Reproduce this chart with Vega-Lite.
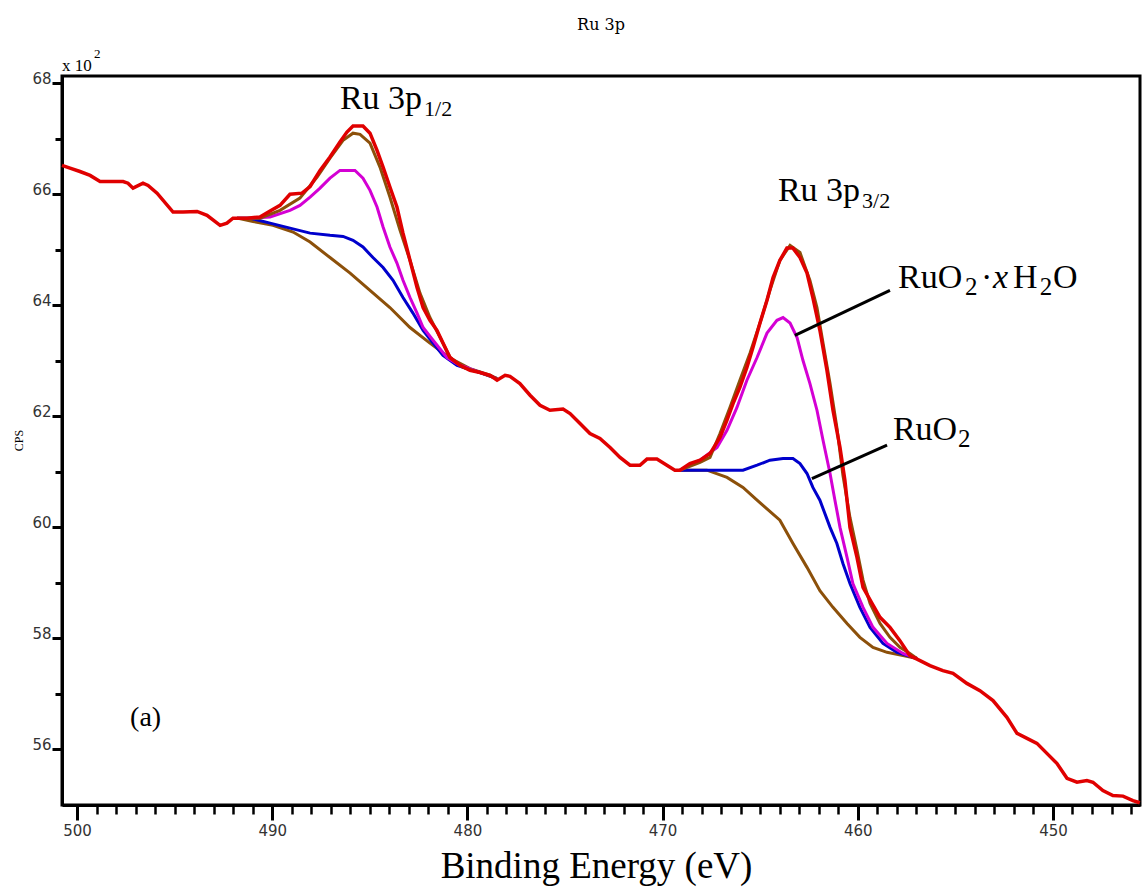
{
  "$schema": "https://vega.github.io/schema/vega-lite/v6.json",
  "width": 1078,
  "height": 729,
  "autosize": {"type": "none"},
  "padding": {"left": 62, "top": 76, "right": 2, "bottom": 85},
  "background": "#ffffff",
  "title": {"text": "Ru 3p", "font": "DejaVu Serif", "fontSize": 16, "fontWeight": "normal", "color": "#000000", "anchor": "middle", "offset": 15},
  "config": {
    "view": {"stroke": "#000000", "strokeWidth": 3},
    "axis": {"grid": false, "domainColor": "#000000", "domainWidth": 3, "tickColor": "#000000", "labelColor": "#333333", "labelFont": "DejaVu Sans", "labelFontSize": 15, "titleColor": "#000000", "titleFont": "Liberation Serif", "titleFontWeight": "normal"}
  },
  "datasets": {
    "measured": [
      {"energy":500.77,"cps":66.52},{"energy":500.36,"cps":66.47},{"energy":499.85,"cps":66.41},{"energy":499.33,"cps":66.34},{"energy":498.82,"cps":66.23},{"energy":497.64,"cps":66.23},{"energy":497.39,"cps":66.20},{"energy":497.13,"cps":66.11},{"energy":496.62,"cps":66.20},{"energy":496.36,"cps":66.16},{"energy":495.90,"cps":66.02},{"energy":495.08,"cps":65.68},{"energy":494.57,"cps":65.68},{"energy":493.85,"cps":65.69},{"energy":493.34,"cps":65.62},{"energy":492.67,"cps":65.44},{"energy":492.32,"cps":65.48},{"energy":492.01,"cps":65.57},{"energy":491.29,"cps":65.57},{"energy":490.63,"cps":65.59},{"energy":490.11,"cps":65.70},{"energy":489.60,"cps":65.80},{"energy":489.09,"cps":66.00},{"energy":488.47,"cps":66.02},{"energy":488.06,"cps":66.14},{"energy":487.55,"cps":66.43},{"energy":487.04,"cps":66.67},{"energy":486.53,"cps":66.94},{"energy":486.17,"cps":67.12},{"energy":485.86,"cps":67.23},{"energy":485.35,"cps":67.23},{"energy":484.99,"cps":67.10},{"energy":484.63,"cps":66.79},{"energy":484.32,"cps":66.49},{"energy":483.97,"cps":66.13},{"energy":483.61,"cps":65.77},{"energy":483.30,"cps":65.30},{"energy":482.94,"cps":64.81},{"energy":482.58,"cps":64.32},{"energy":482.27,"cps":63.96},{"energy":481.92,"cps":63.73},{"energy":481.56,"cps":63.55},{"energy":481.25,"cps":63.32},{"energy":480.89,"cps":63.06},{"energy":480.38,"cps":62.92},{"energy":479.87,"cps":62.83},{"energy":479.35,"cps":62.79},{"energy":478.84,"cps":62.74},{"energy":478.48,"cps":62.65},{"energy":478.07,"cps":62.74},{"energy":477.82,"cps":62.72},{"energy":477.31,"cps":62.59},{"energy":476.79,"cps":62.38},{"energy":476.28,"cps":62.20},{"energy":475.77,"cps":62.11},{"energy":475.10,"cps":62.13},{"energy":474.74,"cps":62.05},{"energy":474.23,"cps":61.87},{"energy":473.72,"cps":61.69},{"energy":473.21,"cps":61.60},{"energy":472.69,"cps":61.44},{"energy":472.18,"cps":61.26},{"energy":471.67,"cps":61.12},{"energy":471.16,"cps":61.12},{"energy":470.80,"cps":61.23},{"energy":470.29,"cps":61.23},{"energy":469.78,"cps":61.12},{"energy":469.37,"cps":61.03},{"energy":469.11,"cps":61.03},{"energy":468.60,"cps":61.15},{"energy":468.08,"cps":61.21},{"energy":467.57,"cps":61.33},{"energy":467.06,"cps":61.62},{"energy":466.70,"cps":61.93},{"energy":466.39,"cps":62.23},{"energy":466.04,"cps":62.52},{"energy":465.68,"cps":62.88},{"energy":465.37,"cps":63.24},{"energy":465.01,"cps":63.68},{"energy":464.65,"cps":64.09},{"energy":464.34,"cps":64.50},{"energy":463.99,"cps":64.81},{"energy":463.63,"cps":65.03},{"energy":463.32,"cps":65.03},{"energy":462.96,"cps":64.86},{"energy":462.60,"cps":64.58},{"energy":462.30,"cps":64.14},{"energy":461.94,"cps":63.55},{"energy":461.58,"cps":62.83},{"energy":461.27,"cps":62.11},{"energy":460.91,"cps":61.44},{"energy":460.66,"cps":60.85},{"energy":460.40,"cps":60.00},{"energy":460.04,"cps":59.46},{"energy":459.73,"cps":58.92},{"energy":459.27,"cps":58.63},{"energy":458.86,"cps":58.38},{"energy":458.35,"cps":58.20},{"energy":457.84,"cps":57.96},{"energy":457.33,"cps":57.69},{"energy":456.81,"cps":57.60},{"energy":456.30,"cps":57.51},{"energy":455.64,"cps":57.42},{"energy":455.12,"cps":57.37},{"energy":454.41,"cps":57.19},{"energy":453.74,"cps":57.06},{"energy":453.07,"cps":56.88},{"energy":452.36,"cps":56.58},{"energy":451.84,"cps":56.29},{"energy":451.33,"cps":56.20},{"energy":450.82,"cps":56.11},{"energy":450.31,"cps":55.93},{"energy":449.80,"cps":55.75},{"energy":449.28,"cps":55.48},{"energy":448.77,"cps":55.41},{"energy":448.26,"cps":55.44},{"energy":447.95,"cps":55.41},{"energy":447.44,"cps":55.26},{"energy":446.93,"cps":55.17},{"energy":446.41,"cps":55.16},{"energy":445.90,"cps":55.08},{"energy":445.55,"cps":55.04}
    ],
    "fits": [
      {"series":"Background","band":"3p1/2","energy":491.80,"cps":65.57},{"series":"Background","band":"3p1/2","energy":490.98,"cps":65.51},{"series":"Background","band":"3p1/2","energy":489.96,"cps":65.44},{"series":"Background","band":"3p1/2","energy":488.93,"cps":65.32},{"series":"Background","band":"3p1/2","energy":488.06,"cps":65.14},{"series":"Background","band":"3p1/2","energy":487.04,"cps":64.86},{"series":"Background","band":"3p1/2","energy":486.01,"cps":64.58},{"series":"Background","band":"3p1/2","energy":484.99,"cps":64.27},{"series":"Background","band":"3p1/2","energy":483.97,"cps":63.96},{"series":"Background","band":"3p1/2","energy":482.94,"cps":63.60},{"series":"Background","band":"3p1/2","energy":481.92,"cps":63.32},{"series":"Background","band":"3p1/2","energy":480.89,"cps":63.05},{"series":"Background","band":"3p1/2","energy":479.87,"cps":62.86},{"series":"Background","band":"3p1/2","energy":478.84,"cps":62.74},{"series":"Background","band":"3p1/2","energy":478.48,"cps":62.68},
      {"series":"RuO2","band":"3p1/2","energy":491.80,"cps":65.57},{"series":"RuO2","band":"3p1/2","energy":491.14,"cps":65.57},{"series":"RuO2","band":"3p1/2","energy":490.11,"cps":65.48},{"series":"RuO2","band":"3p1/2","energy":489.09,"cps":65.39},{"series":"RuO2","band":"3p1/2","energy":488.06,"cps":65.30},{"series":"RuO2","band":"3p1/2","energy":487.04,"cps":65.26},{"series":"RuO2","band":"3p1/2","energy":486.37,"cps":65.24},{"series":"RuO2","band":"3p1/2","energy":485.86,"cps":65.17},{"series":"RuO2","band":"3p1/2","energy":485.35,"cps":65.05},{"series":"RuO2","band":"3p1/2","energy":484.84,"cps":64.86},{"series":"RuO2","band":"3p1/2","energy":484.32,"cps":64.68},{"series":"RuO2","band":"3p1/2","energy":483.81,"cps":64.45},{"series":"RuO2","band":"3p1/2","energy":483.30,"cps":64.14},{"series":"RuO2","band":"3p1/2","energy":482.79,"cps":63.86},{"series":"RuO2","band":"3p1/2","energy":482.27,"cps":63.55},{"series":"RuO2","band":"3p1/2","energy":481.76,"cps":63.32},{"series":"RuO2","band":"3p1/2","energy":481.25,"cps":63.10},{"series":"RuO2","band":"3p1/2","energy":480.53,"cps":62.92},{"series":"RuO2","band":"3p1/2","energy":479.35,"cps":62.79},{"series":"RuO2","band":"3p1/2","energy":478.48,"cps":62.68},
      {"series":"RuO2·xH2O","band":"3p1/2","energy":491.80,"cps":65.57},{"series":"RuO2·xH2O","band":"3p1/2","energy":491.14,"cps":65.57},{"series":"RuO2·xH2O","band":"3p1/2","energy":490.11,"cps":65.59},{"series":"RuO2·xH2O","band":"3p1/2","energy":489.09,"cps":65.71},{"series":"RuO2·xH2O","band":"3p1/2","energy":488.58,"cps":65.80},{"series":"RuO2·xH2O","band":"3p1/2","energy":488.06,"cps":65.95},{"series":"RuO2·xH2O","band":"3p1/2","energy":487.55,"cps":66.11},{"series":"RuO2·xH2O","band":"3p1/2","energy":487.04,"cps":66.29},{"series":"RuO2·xH2O","band":"3p1/2","energy":486.53,"cps":66.43},{"series":"RuO2·xH2O","band":"3p1/2","energy":485.76,"cps":66.43},{"series":"RuO2·xH2O","band":"3p1/2","energy":485.35,"cps":66.29},{"series":"RuO2·xH2O","band":"3p1/2","energy":484.99,"cps":66.07},{"series":"RuO2·xH2O","band":"3p1/2","energy":484.63,"cps":65.77},{"series":"RuO2·xH2O","band":"3p1/2","energy":484.32,"cps":65.41},{"series":"RuO2·xH2O","band":"3p1/2","energy":483.97,"cps":65.05},{"series":"RuO2·xH2O","band":"3p1/2","energy":483.61,"cps":64.76},{"series":"RuO2·xH2O","band":"3p1/2","energy":483.30,"cps":64.45},{"series":"RuO2·xH2O","band":"3p1/2","energy":482.94,"cps":64.14},{"series":"RuO2·xH2O","band":"3p1/2","energy":482.58,"cps":63.86},{"series":"RuO2·xH2O","band":"3p1/2","energy":482.27,"cps":63.60},{"series":"RuO2·xH2O","band":"3p1/2","energy":481.76,"cps":63.37},{"series":"RuO2·xH2O","band":"3p1/2","energy":481.05,"cps":63.06},{"series":"RuO2·xH2O","band":"3p1/2","energy":480.38,"cps":62.92},{"series":"RuO2·xH2O","band":"3p1/2","energy":479.35,"cps":62.79},{"series":"RuO2·xH2O","band":"3p1/2","energy":478.48,"cps":62.68},
      {"series":"Envelope","band":"3p1/2","energy":491.80,"cps":65.57},{"series":"Envelope","band":"3p1/2","energy":490.63,"cps":65.57},{"series":"Envelope","band":"3p1/2","energy":489.60,"cps":65.71},{"series":"Envelope","band":"3p1/2","energy":488.58,"cps":65.93},{"series":"Envelope","band":"3p1/2","energy":487.70,"cps":66.31},{"series":"Envelope","band":"3p1/2","energy":487.04,"cps":66.65},{"series":"Envelope","band":"3p1/2","energy":486.37,"cps":66.97},{"series":"Envelope","band":"3p1/2","energy":485.86,"cps":67.10},{"series":"Envelope","band":"3p1/2","energy":485.50,"cps":67.08},{"series":"Envelope","band":"3p1/2","energy":484.99,"cps":66.92},{"series":"Envelope","band":"3p1/2","energy":484.48,"cps":66.49},{"series":"Envelope","band":"3p1/2","energy":483.97,"cps":65.95},{"series":"Envelope","band":"3p1/2","energy":483.45,"cps":65.35},{"series":"Envelope","band":"3p1/2","energy":482.94,"cps":64.81},{"series":"Envelope","band":"3p1/2","energy":482.43,"cps":64.22},{"series":"Envelope","band":"3p1/2","energy":481.92,"cps":63.78},{"series":"Envelope","band":"3p1/2","energy":481.40,"cps":63.42},{"series":"Envelope","band":"3p1/2","energy":480.89,"cps":63.06},{"series":"Envelope","band":"3p1/2","energy":480.23,"cps":62.88},{"series":"Envelope","band":"3p1/2","energy":479.35,"cps":62.79},{"series":"Envelope","band":"3p1/2","energy":478.48,"cps":62.68},
      {"series":"Background","band":"3p3/2","energy":469.11,"cps":61.03},{"series":"Background","band":"3p3/2","energy":467.73,"cps":61.03},{"series":"Background","band":"3p3/2","energy":466.70,"cps":60.90},{"series":"Background","band":"3p3/2","energy":465.88,"cps":60.72},{"series":"Background","band":"3p3/2","energy":465.16,"cps":60.49},{"series":"Background","band":"3p3/2","energy":463.99,"cps":60.13},{"series":"Background","band":"3p3/2","energy":463.32,"cps":59.71},{"series":"Background","band":"3p3/2","energy":462.60,"cps":59.28},{"series":"Background","band":"3p3/2","energy":461.94,"cps":58.86},{"series":"Background","band":"3p3/2","energy":461.27,"cps":58.56},{"series":"Background","band":"3p3/2","energy":460.55,"cps":58.27},{"series":"Background","band":"3p3/2","energy":459.89,"cps":58.02},{"series":"Background","band":"3p3/2","energy":459.22,"cps":57.84},{"series":"Background","band":"3p3/2","energy":458.50,"cps":57.75},{"series":"Background","band":"3p3/2","energy":457.68,"cps":57.69},{"series":"Background","band":"3p3/2","energy":456.97,"cps":57.64},
      {"series":"RuO2","band":"3p3/2","energy":469.11,"cps":61.03},{"series":"RuO2","band":"3p3/2","energy":467.73,"cps":61.03},{"series":"RuO2","band":"3p3/2","energy":465.88,"cps":61.03},{"series":"RuO2","band":"3p3/2","energy":465.16,"cps":61.12},{"series":"RuO2","band":"3p3/2","energy":464.50,"cps":61.21},{"series":"RuO2","band":"3p3/2","energy":463.83,"cps":61.24},{"series":"RuO2","band":"3p3/2","energy":463.32,"cps":61.24},{"series":"RuO2","band":"3p3/2","energy":462.96,"cps":61.15},{"series":"RuO2","band":"3p3/2","energy":462.60,"cps":60.97},{"series":"RuO2","band":"3p3/2","energy":462.30,"cps":60.72},{"series":"RuO2","band":"3p3/2","energy":461.94,"cps":60.49},{"series":"RuO2","band":"3p3/2","energy":461.42,"cps":60.00},{"series":"RuO2","band":"3p3/2","energy":461.07,"cps":59.71},{"series":"RuO2","band":"3p3/2","energy":460.76,"cps":59.35},{"series":"RuO2","band":"3p3/2","energy":460.40,"cps":58.99},{"series":"RuO2","band":"3p3/2","energy":459.89,"cps":58.56},{"series":"RuO2","band":"3p3/2","energy":459.37,"cps":58.20},{"series":"RuO2","band":"3p3/2","energy":458.71,"cps":57.91},{"series":"RuO2","band":"3p3/2","energy":457.99,"cps":57.75},{"series":"RuO2","band":"3p3/2","energy":456.97,"cps":57.64},
      {"series":"RuO2·xH2O","band":"3p3/2","energy":469.11,"cps":61.03},{"series":"RuO2·xH2O","band":"3p3/2","energy":468.08,"cps":61.21},{"series":"RuO2·xH2O","band":"3p3/2","energy":467.21,"cps":61.44},{"series":"RuO2·xH2O","band":"3p3/2","energy":466.70,"cps":61.75},{"series":"RuO2·xH2O","band":"3p3/2","energy":466.19,"cps":62.16},{"series":"RuO2·xH2O","band":"3p3/2","energy":465.68,"cps":62.65},{"series":"RuO2·xH2O","band":"3p3/2","energy":465.16,"cps":63.06},{"series":"RuO2·xH2O","band":"3p3/2","energy":464.65,"cps":63.50},{"series":"RuO2·xH2O","band":"3p3/2","energy":464.14,"cps":63.73},{"series":"RuO2·xH2O","band":"3p3/2","energy":463.83,"cps":63.78},{"series":"RuO2·xH2O","band":"3p3/2","energy":463.47,"cps":63.68},{"series":"RuO2·xH2O","band":"3p3/2","energy":463.11,"cps":63.42},{"series":"RuO2·xH2O","band":"3p3/2","energy":462.81,"cps":63.01},{"series":"RuO2·xH2O","band":"3p3/2","energy":462.45,"cps":62.59},{"series":"RuO2·xH2O","band":"3p3/2","energy":462.09,"cps":62.11},{"series":"RuO2·xH2O","band":"3p3/2","energy":461.78,"cps":61.57},{"series":"RuO2·xH2O","band":"3p3/2","energy":461.42,"cps":60.97},{"series":"RuO2·xH2O","band":"3p3/2","energy":461.17,"cps":60.49},{"series":"RuO2·xH2O","band":"3p3/2","energy":460.91,"cps":60.00},{"series":"RuO2·xH2O","band":"3p3/2","energy":460.55,"cps":59.46},{"series":"RuO2·xH2O","band":"3p3/2","energy":460.25,"cps":58.99},{"series":"RuO2·xH2O","band":"3p3/2","energy":459.73,"cps":58.56},{"series":"RuO2·xH2O","band":"3p3/2","energy":459.22,"cps":58.20},{"series":"RuO2·xH2O","band":"3p3/2","energy":458.50,"cps":57.91},{"series":"RuO2·xH2O","band":"3p3/2","energy":457.68,"cps":57.73},{"series":"RuO2·xH2O","band":"3p3/2","energy":456.97,"cps":57.64},
      {"series":"Envelope","band":"3p3/2","energy":469.11,"cps":61.03},{"series":"Envelope","band":"3p3/2","energy":468.08,"cps":61.17},{"series":"Envelope","band":"3p3/2","energy":467.57,"cps":61.26},{"series":"Envelope","band":"3p3/2","energy":467.06,"cps":61.69},{"series":"Envelope","band":"3p3/2","energy":466.55,"cps":62.16},{"series":"Envelope","band":"3p3/2","energy":466.04,"cps":62.65},{"series":"Envelope","band":"3p3/2","energy":465.52,"cps":63.14},{"series":"Envelope","band":"3p3/2","energy":465.01,"cps":63.68},{"series":"Envelope","band":"3p3/2","energy":464.50,"cps":64.27},{"series":"Envelope","band":"3p3/2","energy":463.99,"cps":64.81},{"series":"Envelope","band":"3p3/2","energy":463.47,"cps":65.08},{"series":"Envelope","band":"3p3/2","energy":462.96,"cps":64.95},{"series":"Envelope","band":"3p3/2","energy":462.45,"cps":64.45},{"series":"Envelope","band":"3p3/2","energy":462.09,"cps":63.96},{"series":"Envelope","band":"3p3/2","energy":461.78,"cps":63.32},{"series":"Envelope","band":"3p3/2","energy":461.42,"cps":62.59},{"series":"Envelope","band":"3p3/2","energy":461.07,"cps":61.80},{"series":"Envelope","band":"3p3/2","energy":460.76,"cps":60.94},{"series":"Envelope","band":"3p3/2","energy":460.40,"cps":60.18},{"series":"Envelope","band":"3p3/2","energy":460.04,"cps":59.59},{"series":"Envelope","band":"3p3/2","energy":459.73,"cps":59.05},{"series":"Envelope","band":"3p3/2","energy":459.37,"cps":58.63},{"series":"Envelope","band":"3p3/2","energy":458.86,"cps":58.27},{"series":"Envelope","band":"3p3/2","energy":458.35,"cps":58.02},{"series":"Envelope","band":"3p3/2","energy":457.84,"cps":57.84},{"series":"Envelope","band":"3p3/2","energy":457.33,"cps":57.73},{"series":"Envelope","band":"3p3/2","energy":456.97,"cps":57.64}
    ],
    "leaders": [
      {"label":"RuO2·xH2O","e1":458.35,"c1":64.27,"e2":463.22,"c2":63.46},
      {"label":"RuO2","e1":458.50,"c1":61.48,"e2":462.35,"c2":60.88}
    ],
    "mainText": [
      {"text":"Ru 3p","energy":486.53,"cps":67.53},
      {"text":"Ru 3p","energy":464.09,"cps":65.87},
      {"text":"RuO","energy":457.94,"cps":64.31},
      {"text":"·","energy":453.69,"cps":64.31},
      {"text":"H","energy":452.05,"cps":64.31},
      {"text":"O","energy":450.00,"cps":64.31},
      {"text":"RuO","energy":458.20,"cps":61.57}
    ],
    "subText": [
      {"text":"1/2","energy":482.22,"cps":67.41},
      {"text":"3/2","energy":459.78,"cps":65.75}
    ],
    "chemSub": [
      {"text":"2","energy":454.51,"cps":64.18},
      {"text":"2","energy":450.67,"cps":64.18},
      {"text":"2","energy":454.87,"cps":61.44}
    ],
    "italicText": [
      {"text":"x","energy":453.07,"cps":64.31}
    ],
    "panelText": [
      {"text":"(a)","energy":497.28,"cps":56.43}
    ],
    "scaleText": [
      {"text":"x 10","energy":500.77,"cps":68.22}
    ],
    "supText": [
      {"text":"2","energy":499.13,"cps":68.45}
    ]
  },
  "resolve": {"axis": {"x": "independent", "y": "independent"}},
  "layer": [
    {
      "data": {"name": "fits"},
      "mark": {"type": "line", "strokeWidth": 3, "interpolate": "linear"},
      "encoding": {
        "x": {"field": "energy", "type": "quantitative", "scale": {"domain": [445.54, 500.77], "reverse": true, "nice": false, "zero": false},
          "axis": {"orient": "bottom", "values": [500, 490, 480, 470, 460, 450], "format": "d", "tickSize": 15, "tickWidth": 3, "labelPadding": 3, "labelFlush": false, "title": "Binding Energy (eV)", "titleFontSize": 37, "titleX": 534, "titleY": 72, "titleAlign": "center", "titleBaseline": "alphabetic"}},
        "y": {"field": "cps", "type": "quantitative", "scale": {"domain": [55, 68.13], "nice": false, "zero": false},
          "axis": {"orient": "left", "values": [56, 58, 60, 62, 64, 66, 68], "format": "d", "tickSize": 10, "tickWidth": 3, "labelPadding": 1, "labelBaseline": "alphabetic", "labelFlush": false, "title": "CPS", "titleFontSize": 12, "titleAngle": -90, "titleX": -44, "titleY": 364, "titleAlign": "center", "titleBaseline": "middle"}},
        "color": {"field": "series", "type": "nominal", "scale": {"domain": ["Background", "RuO2", "RuO2·xH2O", "Envelope"], "range": ["#8C500A", "#0000CC", "#D400D4", "#8C500A"]}, "legend": null},
        "detail": {"field": "band", "type": "nominal"}
      }
    },
    {
      "data": {"name": "measured"},
      "mark": {"type": "line", "strokeWidth": 3.5, "color": "#E00000", "interpolate": "linear"},
      "encoding": {
        "x": {"field": "energy", "type": "quantitative",
          "axis": {"orient": "bottom", "values": [446,447,448,449,451,452,453,454,455,456,457,458,459,461,462,463,464,465,466,467,468,469,471,472,473,474,475,476,477,478,479,481,482,483,484,485,486,487,488,489,491,492,493,494,495,496,497,498,499], "labels": false, "domain": false, "tickSize": 9, "tickWidth": 2.5, "title": null}},
        "y": {"field": "cps", "type": "quantitative",
          "axis": {"orient": "left", "values": [57, 59, 61, 63, 65, 67], "labels": false, "domain": false, "tickSize": 7, "tickWidth": 3, "title": null}}
      }
    },
    {
      "data": {"name": "leaders"},
      "mark": {"type": "rule", "color": "#000000", "strokeWidth": 3},
      "encoding": {
        "x": {"field": "e1", "type": "quantitative", "axis": null},
        "y": {"field": "c1", "type": "quantitative", "axis": null},
        "x2": {"field": "e2"},
        "y2": {"field": "c2"}
      }
    },
    {
      "data": {"name": "mainText"},
      "mark": {"type": "text", "font": "Liberation Serif", "fontSize": 34, "align": "left", "baseline": "alphabetic", "color": "#000000"},
      "encoding": {
        "x": {"field": "energy", "type": "quantitative", "axis": null},
        "y": {"field": "cps", "type": "quantitative", "axis": null},
        "text": {"field": "text"}
      }
    },
    {
      "data": {"name": "subText"},
      "mark": {"type": "text", "font": "Liberation Serif", "fontSize": 22, "align": "left", "baseline": "alphabetic", "color": "#000000"},
      "encoding": {
        "x": {"field": "energy", "type": "quantitative", "axis": null},
        "y": {"field": "cps", "type": "quantitative", "axis": null},
        "text": {"field": "text"}
      }
    },
    {
      "data": {"name": "chemSub"},
      "mark": {"type": "text", "font": "Liberation Serif", "fontSize": 25, "align": "left", "baseline": "alphabetic", "color": "#000000"},
      "encoding": {
        "x": {"field": "energy", "type": "quantitative", "axis": null},
        "y": {"field": "cps", "type": "quantitative", "axis": null},
        "text": {"field": "text"}
      }
    },
    {
      "data": {"name": "italicText"},
      "mark": {"type": "text", "font": "Liberation Serif", "fontSize": 34, "fontStyle": "italic", "align": "left", "baseline": "alphabetic", "color": "#000000"},
      "encoding": {
        "x": {"field": "energy", "type": "quantitative", "axis": null},
        "y": {"field": "cps", "type": "quantitative", "axis": null},
        "text": {"field": "text"}
      }
    },
    {
      "data": {"name": "panelText"},
      "mark": {"type": "text", "font": "Liberation Serif", "fontSize": 28, "align": "left", "baseline": "alphabetic", "color": "#000000"},
      "encoding": {
        "x": {"field": "energy", "type": "quantitative", "axis": null},
        "y": {"field": "cps", "type": "quantitative", "axis": null},
        "text": {"field": "text"}
      }
    },
    {
      "data": {"name": "scaleText"},
      "mark": {"type": "text", "font": "Liberation Serif", "fontSize": 17, "align": "left", "baseline": "alphabetic", "color": "#000000"},
      "encoding": {
        "x": {"field": "energy", "type": "quantitative", "axis": null},
        "y": {"field": "cps", "type": "quantitative", "axis": null},
        "text": {"field": "text"}
      }
    },
    {
      "data": {"name": "supText"},
      "mark": {"type": "text", "font": "Liberation Serif", "fontSize": 13, "align": "left", "baseline": "alphabetic", "color": "#000000"},
      "encoding": {
        "x": {"field": "energy", "type": "quantitative", "axis": null},
        "y": {"field": "cps", "type": "quantitative", "axis": null},
        "text": {"field": "text"}
      }
    }
  ]
}
